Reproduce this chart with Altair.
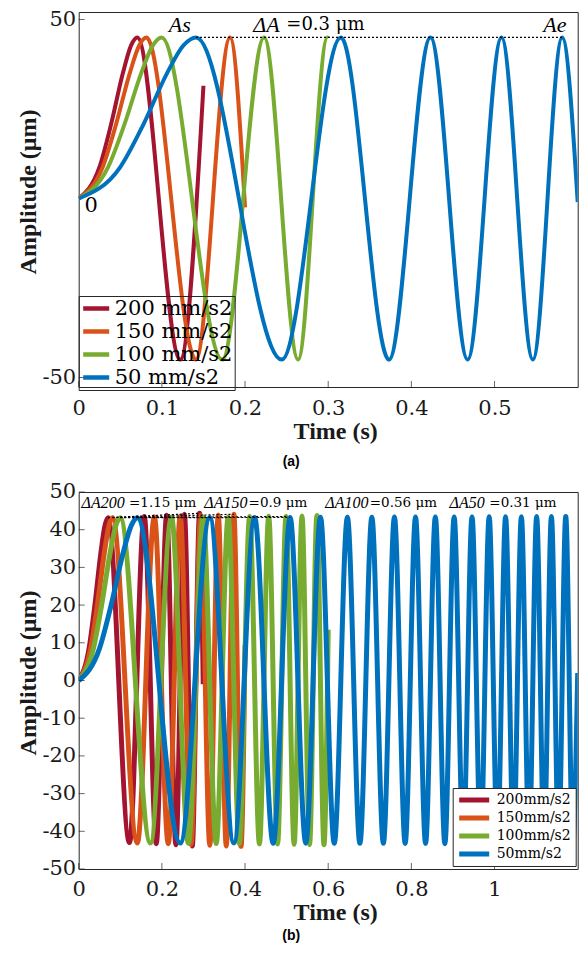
import altair as alt
import pandas as pd

# ---------------- series ----------------
SERIES_A = ["200 mm/s2", "150 mm/s2", "100 mm/s2", "\u00a0\u00a050 mm/s2"]
SERIES_B = ["200mm/s2", "150mm/s2", "100mm/s2", "\u00a0\u00a050mm/s2"]
COLORS = ["#A2142F", "#D95319", "#77AC30", "#0072BD"]

# ---------------- panel (a): key points (time s, amplitude um) ----------------
A_T_200 = [0, 0.025, 0.039, 0.053, 0.063, 0.0705, 0.1221, 0.150]
A_Y_200 = [0, 8.8, 20.8, 34.9, 42.8, 45.0, -45.0, 31.5]
A_T_150 = [0, 0.029, 0.045, 0.061, 0.073, 0.0814, 0.1410, 0.1820, 0.200]
A_Y_150 = [0, 8.9, 20.8, 34.7, 42.9, 45.0, -45.0, 45.0, -2.5]
A_T_100 = [0, 0.035, 0.055, 0.075, 0.089, 0.0997, 0.1727, 0.2230, 0.2638, 0.2991, 0.3000]
A_Y_100 = [0, 8.6, 20.7, 34.9, 42.7, 45.0, -45.0, 45.0, -45.0, 45.0, 44.9]
A_T_50 = [0, 0.050, 0.078, 0.106, 0.126, 0.1410, 0.2442, 0.3153, 0.3731, 0.4230, 0.4677,
          0.5084, 0.5461, 0.5814, 0.6000]
A_Y_50 = [0, 8.8, 20.8, 34.9, 42.8, 45.0, -45.0, 45.0, -45.0, 45.0, -45.0,
          45.0, -45.0, 45.0, -1.0]

# ---------------- panel (b) ----------------
B_T_200 = [0, 0.025, 0.039, 0.053, 0.063, 0.0705, 0.1221, 0.1577, 0.1865, 0.2115, 0.2338,
           0.2542, 0.2731, 0.2907, 0.2995]
B_Y_200 = [0, 8.5, 20.0, 33.5, 41.0, 43.2, -43.0, 43.5, -43.3, 43.8, -43.6,
           44.1, -43.9, 44.35, -1.0]
B_T_150 = [0, 0.029, 0.045, 0.061, 0.073, 0.0814, 0.1410, 0.1820, 0.2154, 0.2442, 0.2700,
           0.2935, 0.3153, 0.3357, 0.3549, 0.3731, 0.3904, 0.4000]
B_Y_150 = [0, 8.6, 20.0, 33.4, 41.2, 43.2, -43.1, 43.4, -43.3, 43.6, -43.5,
           43.75, -43.7, 43.9, -43.9, 44.1, -44.0, 9.5]
B_T_100 = [0, 0.035, 0.055, 0.075, 0.089, 0.0997, 0.1727, 0.2230, 0.2638, 0.2991, 0.3307,
           0.3595, 0.3862, 0.4111, 0.4346, 0.4569, 0.4782, 0.4986, 0.5181, 0.5370, 0.5552,
           0.5728, 0.5899, 0.6000]
B_Y_100 = [0, 8.3, 19.9, 33.5, 41.0, 43.2, -43.1, 43.3, -43.2, 43.35, -43.25,
           43.4, -43.3, 43.5, -43.35, 43.55, -43.4, 43.6, -43.45, 43.65, -43.5,
           43.76, -43.55, 13.5]
B_T_50 = [0, 0.050, 0.078, 0.106, 0.126,
          0.1410, 0.2442, 0.3153, 0.3731, 0.4230, 0.4677, 0.5084, 0.5461, 0.5814, 0.6146,
          0.6462, 0.6762, 0.7050, 0.7327, 0.7593, 0.7851, 0.8100, 0.8342, 0.8577, 0.8806,
          0.9029, 0.9246, 0.9459, 0.9667, 0.9871, 1.0070, 1.0266, 1.0457, 1.0646, 1.0831,
          1.1013, 1.1192, 1.1368, 1.1542, 1.1713, 1.1881, 1.2000]
B_Y_50 = [0, 8.5, 20.0, 33.5, 41.0,
          43.2, -43.1, 43.2, -43.1, 43.25, -43.15, 43.25, -43.15, 43.3, -43.2,
          43.3, -43.2, 43.3, -43.2, 43.35, -43.25, 43.35, -43.25, 43.4, -43.3,
          43.4, -43.3, 43.4, -43.3, 43.45, -43.35, 43.45, -43.35, 43.45, -43.35,
          43.5, -43.4, 43.5, -43.4, 43.5, -43.4, 2.0]

# ---------------- reference (dotted) lines ----------------
DOT_A_T = [0.1410]
DOT_A_T2 = [0.5814]
DOT_A_Y = [45.0]
DOT_A_Y2 = [45.0]
DOT_B_T = [0.0705, 0.0814, 0.0997, 0.1410]
DOT_B_T2 = [0.2907, 0.3731, 0.4986, 0.5084]
DOT_B_Y = [43.2, 43.2, 43.2, 43.2]
DOT_B_Y2 = [44.35, 44.1, 43.5, 43.25]

# ---------------- annotations ----------------
A_IT_TEXT = ["As", "Ae"]
A_IT_T = [0.1216, 0.5725]
A_DA_TEXT = ["\u0394A"]
A_DA_T = [0.210]
A_RG_TEXT = ["=0.3 \u03bcm"]
A_RG_T = [0.2497]
A_TXT_Y = 48.4
A_ZERO_TEXT = ["0"]
A_ZERO_T = [0.015]
A_ZERO_Y = [-2.2]

B_IT_TEXT = ["\u0394A200", "\u0394A150", "\u0394A100", "\u0394A50"]
B_IT_T = [0.007, 0.302, 0.593, 0.892]
B_RG_TEXT = ["=1.15 \u03bcm", "=0.9 \u03bcm", "=0.56 \u03bcm", "=0.31 \u03bcm"]
B_RG_T = [0.121, 0.4086, 0.700, 0.9876]
B_TXT_Y = 47.2

# ---------------- axes ----------------
A_XTICKS = [0, 0.1, 0.2, 0.3, 0.4, 0.5]
A_YTICKS = [-50, 50]
B_XTICKS = [0, 0.2, 0.4, 0.6, 0.8, 1]
B_YTICKS = [-50, -40, -30, -20, -10, 0, 10, 20, 30, 40, 50]

REG = "DejaVu Serif"          # regular serif text
SERIF = "Liberation Serif"    # bold titles / italic annotations
INK = "#1a1a1a"
W = 499


def long_df(ts_list, ys_list, names):
    rows = []
    for name, ts, ys in zip(names, ts_list, ys_list):
        for t, y in zip(ts, ys):
            rows.append({"t": t, "y": y, "s": name})
    return pd.DataFrame(rows)


def panel(df, names, w, h, xdom, ydom, xticks, yticks, legend, lw, dots, texts, caption,
          cap_offset):
    xenc = alt.X("t:Q", scale=alt.Scale(domain=xdom, nice=False, zero=False),
                 axis=alt.Axis(values=xticks, labelExpr="'' + datum.value", title="Time (s)",
                               labelPadding=10, titlePadding=1, titleX=w / 2 + 7))
    yenc = alt.Y("y:Q", scale=alt.Scale(domain=ydom, nice=False, zero=False),
                 axis=alt.Axis(values=yticks, labelExpr="'' + datum.value",
                               title="Amplitude (\u03bcm)", labelPadding=3, titlePadding=1,
                               titleY=h / 2 - 8))
    color = alt.Color("s:N", scale=alt.Scale(domain=names, range=COLORS), legend=legend)
    layers = []
    for nm in names:
        layers.append(
            alt.Chart(df).transform_filter(alt.datum.s == nm)
            .mark_line(interpolate="monotone", strokeWidth=lw, strokeJoin="round", clip=True)
            .encode(x=xenc, y=yenc, color=color)
        )
    layers.append(
        alt.Chart(dots).mark_rule(color="black", strokeDash=[2, 2], strokeWidth=1.2)
        .encode(x=xenc, x2="t2:Q", y=yenc, y2="y2:Q")
    )
    for tdf_, font, style, size, align in texts:
        kw = dict(font=font, fontSize=size, align=align, color="black")
        if style:
            kw["fontStyle"] = style
        layers.append(alt.Chart(tdf_).mark_text(**kw).encode(x=xenc, y=yenc, text="label:N"))
    xt = pd.DataFrame({"t": xticks})
    yt = pd.DataFrame({"y": yticks})
    layers.append(
        alt.Chart(xt).mark_tick(orient="vertical", size=6, thickness=1, color="#262626")
        .encode(x=xenc, y=alt.value(h - 3))
    )
    layers.append(
        alt.Chart(yt).mark_tick(orient="horizontal", size=6, thickness=1, color="#262626")
        .encode(y=yenc, x=alt.value(3))
    )
    return alt.layer(*layers).properties(
        width=w, height=h,
        title=alt.TitleParams(caption, orient="bottom", anchor="middle", frame="group",
                              dx=-37, offset=cap_offset, font="Liberation Sans", fontSize=14,
                              fontWeight="bold", color="black"),
    )


def tdf(ts, ys, labels):
    return pd.DataFrame({"t": ts, "y": ys, "label": labels})


# ---- panel (a) ----
df_a = long_df([A_T_200, A_T_150, A_T_100, A_T_50], [A_Y_200, A_Y_150, A_Y_100, A_Y_50], SERIES_A)
dots_a = pd.DataFrame({"t": DOT_A_T, "t2": DOT_A_T2, "y": DOT_A_Y, "y2": DOT_A_Y2})
texts_a = [
    (tdf(A_IT_T, [A_TXT_Y] * len(A_IT_T), A_IT_TEXT), SERIF, "italic", 22, "center"),
    (tdf(A_DA_T, [A_TXT_Y], A_DA_TEXT), SERIF, "italic", 22, "left"),
    (tdf(A_RG_T, [A_TXT_Y], A_RG_TEXT), REG, None, 18, "left"),
    (tdf(A_ZERO_T, A_ZERO_Y, A_ZERO_TEXT), REG, None, 21, "center"),
]
legend_a = alt.Legend(title=None, orient="none", legendX=0, legendY=284,
                      symbolType="stroke", symbolStrokeWidth=4.5, symbolSize=676,
                      clipHeight=21, labelFont=REG, labelFontSize=21, labelColor="black",
                      strokeColor="#262626", padding=2, rowPadding=1, labelOffset=3,
                      labelExpr="datum.label + '\u00a0\u00a0\u00a0\u00a0'")
pa = panel(df_a, SERIES_A, W, 375, [0, 0.6], [-52.65, 52.1], A_XTICKS, A_YTICKS, legend_a, 4,
           dots_a, texts_a, "(a)", 12)

# ---- panel (b) ----
df_b = long_df([B_T_200, B_T_150, B_T_100, B_T_50], [B_Y_200, B_Y_150, B_Y_100, B_Y_50], SERIES_B)
dots_b = pd.DataFrame({"t": DOT_B_T, "t2": DOT_B_T2, "y": DOT_B_Y, "y2": DOT_B_Y2})
texts_b = [
    (tdf(B_IT_T, [B_TXT_Y] * 4, B_IT_TEXT), SERIF, "italic", 16, "left"),
    (tdf(B_RG_T, [B_TXT_Y] * 4, B_RG_TEXT), REG, None, 13.5, "left"),
]
legend_b = alt.Legend(title=None, orient="none", legendX=374, legendY=296,
                      symbolType="stroke", symbolStrokeWidth=5, symbolSize=900,
                      clipHeight=16, labelFont=REG, labelFontSize=14, labelColor="black",
                      strokeColor="#262626", fillColor="white", padding=4,
                      rowPadding=2, labelOffset=5)
pb = panel(df_b, SERIES_B, W, 377, [0, 1.2], [-50, 50], B_XTICKS, B_YTICKS, legend_b, 5,
           dots_b, texts_b, "(b)", 4)

chart = (
    alt.vconcat(pa, pb, spacing=105, bounds="flush")
    .resolve_scale(x="independent", y="independent", color="independent")
    .properties(padding={"left": 7.7, "top": 0, "right": 0, "bottom": 0})
    .configure_view(stroke="#262626", strokeWidth=1)
    .configure_axis(labelFont=REG, labelFontSize=21, labelColor=INK, titleFont=SERIF,
                    titleFontSize=24, titleFontWeight="bold", titleColor=INK, domain=False,
                    ticks=False, grid=False, labelFlush=False)
)

chart.save("out.html", embed_options={"renderer": "svg", "actions": False})
